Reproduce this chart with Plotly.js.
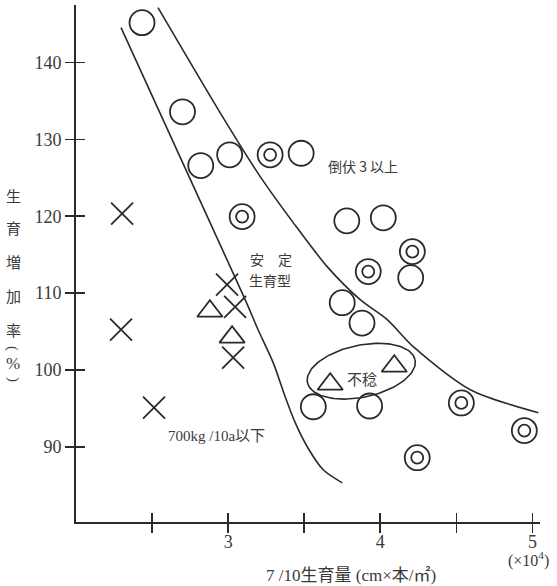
<!DOCTYPE html>
<html>
<head>
<meta charset="utf-8">
<script src="https://cdn.plot.ly/plotly-3.0.1.min.js"></script>
<style>html,body{margin:0;padding:0;background:#fff;}#chart{width:557px;height:586px;}</style>
</head>
<body>
<div id="chart"></div>
<script>
// open circles (○)
const circX = [2.434, 2.70, 2.82, 3.01, 3.48, 3.78, 4.02, 4.20, 3.75, 3.88, 3.56, 3.93];
const circY = [145.2, 133.6, 126.6, 128.0, 128.2, 119.4, 119.8, 112.0, 108.75, 106.1, 95.2, 95.3];
// double circles (◎)
const dblX = [3.276, 3.092, 3.921, 4.211, 4.533, 4.243, 4.947];
const dblY = [128.0, 119.95, 112.8, 115.4, 95.7, 88.57, 92.1];
// triangles (△)
const triX = [2.88, 3.026, 3.671, 4.092];
const triY = [107.64, 104.26, 98.14, 100.48];
// crosses (×)
const crsX = [2.303, 2.296, 2.513, 2.993, 3.046, 3.033];
const crsY = [120.34, 105.23, 95.08, 111.1, 108.2, 101.6];
// boundary curves
const leftCurveX = [2.296, 2.704, 3.112, 3.197, 3.296, 3.375, 3.441, 3.520, 3.625, 3.750];
const leftCurveY = [144.56, 126.85, 109.14, 105.23, 100.94, 96.51, 93.13, 90.0, 87.0, 85.3];
const rightCurveX = [2.539, 2.967, 3.211, 3.428, 3.651, 3.868, 4.046, 4.217, 4.592, 5.039];
const rightCurveY = [147.16, 132.84, 125.16, 119.17, 113.44, 109.14, 106.54, 103.02, 97.42, 94.43];
// ellipse around the 不稔 group
const ellCenter = [3.875, 99.83];
// tick values
const xTickVals = [2.5, 3, 3.5, 4, 4.5, 5];
const xLabelVals = [3, 4, 5];
const yTickVals = [90, 100, 110, 120, 130, 140];

const INK = '#2a2a2a';
const TXT = '#3a3a3a';
const xRange = [2.0, 5.05], yRange = [80.2, 147.5];
const plotW = 464, plotH = 517;
const pxX = plotW / (xRange[1] - xRange[0]);
const pxY = plotH / (yRange[1] - yRange[0]);

// ellipse outline (semi-axes 55px/26px, tilted 12°)
const ea = 55, eb = 26, th = 12 * Math.PI / 180;
const ellX = [], ellY = [];
for (let i = 0; i <= 120; i++) {
  const t = 2 * Math.PI * i / 120;
  const dx = ea * Math.cos(t) * Math.cos(th) - eb * Math.sin(t) * Math.sin(th);
  const dy = ea * Math.cos(t) * Math.sin(th) + eb * Math.sin(t) * Math.cos(th);
  ellX.push(ellCenter[0] + dx / pxX);
  ellY.push(ellCenter[1] + dy / pxY);
}

const lineStyle = {color: INK, width: 1.6};
const traces = [
  {x: leftCurveX, y: leftCurveY, mode: 'lines', line: Object.assign({shape: 'spline', smoothing: 0.8}, lineStyle), hoverinfo: 'skip'},
  {x: rightCurveX, y: rightCurveY, mode: 'lines', line: Object.assign({shape: 'spline', smoothing: 0.8}, lineStyle), hoverinfo: 'skip'},
  {x: ellX, y: ellY, mode: 'lines', line: lineStyle, hoverinfo: 'skip'},
  {x: circX, y: circY, mode: 'markers', marker: {symbol: 'circle-open', size: 25, color: INK, line: {width: 1.8, color: INK}}},
  {x: dblX, y: dblY, mode: 'markers', marker: {symbol: 'circle-open', size: 25, color: INK, line: {width: 1.8, color: INK}}},
  {x: dblX, y: dblY, mode: 'markers', marker: {symbol: 'circle-open', size: 12, color: INK, line: {width: 1.8, color: INK}}},
  {x: triX, y: triY, mode: 'markers', marker: {symbol: 'triangle-up-open', size: 22, color: INK, line: {width: 1.8, color: INK}}},
  {x: crsX, y: crsY, mode: 'markers', marker: {symbol: 'x-thin-open', size: 22, color: INK, line: {width: 1.8, color: INK}}},
  {x: [], y: [], xaxis: 'x2', yaxis: 'y2', mode: 'markers'},
  {x: [], y: [], xaxis: 'x3', yaxis: 'y', mode: 'markers'}
];

const cjk = 'Noto Sans CJK JP, sans-serif';
const mix = 'Liberation Serif, Noto Sans CJK JP, serif';
const serif = 'Liberation Serif, serif';
const ann = (x, y, text, size, extra) => Object.assign({
  xref: 'paper', yref: 'paper', x: x, y: y, text: text, showarrow: false,
  font: {family: cjk, size: size, color: TXT}, xanchor: 'center', yanchor: 'middle'
}, extra || {});
// convert page pixel -> paper coords
const PX = px => (px - 76) / plotW;
const PY = py => (522 - py) / plotH;

const yChars = [['生', 195], ['育', 228], ['増', 261], ['加', 295], ['率', 329]];
const annotations = yChars.map(c => ann(PX(13), PY(c[1]), c[0], 15));
annotations.push(ann(PX(13), PY(348), '(', 14, {textangle: 90, font: {family: serif, size: 15, color: TXT}}));
annotations.push(ann(PX(13), PY(363), '%', 15, {font: {family: serif, size: 17, color: TXT}}));
annotations.push(ann(PX(13), PY(379), ')', 14, {textangle: 90, font: {family: serif, size: 15, color: TXT}}));
annotations.push(ann(PX(363), PY(166), '倒伏 3 以上', 14));
annotations.push(ann(PX(271), PY(259), '安　定', 14));
annotations.push(ann(PX(270), PY(280), '生育型', 14));
annotations.push(ann(PX(362), PY(378), '不稔', 15));
annotations.push(ann(PX(216), PY(436), '700kg /10a以下', 14, {font: {family: mix, size: 15, color: TXT}}));
annotations.push(ann(PX(351), PY(575), '7 /10生育量 (cm×本/㎡)', 17, {font: {family: mix, size: 17, color: TXT}}));
annotations.push(ann(PX(528), PY(559), '(×10<sup>4</sup>)', 15, {font: {family: serif, size: 16, color: TXT}}));

const tickFont = {family: serif, size: 18, color: TXT};
const layout = {
  width: 557, height: 586,
  margin: {l: 76, r: 17, t: 5, b: 64},
  paper_bgcolor: '#fff', plot_bgcolor: '#fff',
  showlegend: false,
  xaxis: {range: xRange, showline: true, linewidth: 2, linecolor: INK, showgrid: false, zeroline: false,
    ticks: 'outside', ticklen: 9, tickwidth: 1.6, tickcolor: INK, tickvals: xTickVals, showticklabels: false},
  yaxis: {range: yRange, showline: true, linewidth: 2, linecolor: INK, showgrid: false, zeroline: false,
    ticks: 'outside', ticklen: 9, tickwidth: 1.6, tickcolor: INK, tickvals: yTickVals, tickfont: tickFont},
  xaxis2: {overlaying: 'x', range: xRange, anchor: 'y2', side: 'bottom', showline: false, showgrid: false, zeroline: false,
    ticks: 'inside', ticklen: 9, tickwidth: 1.6, tickcolor: INK, tickvals: xTickVals, showticklabels: false},
  yaxis2: {overlaying: 'y', range: yRange, anchor: 'x2', side: 'left', showline: false, showgrid: false, zeroline: false,
    ticks: 'inside', ticklen: 9, tickwidth: 1.6, tickcolor: INK, tickvals: yTickVals, showticklabels: false},
  xaxis3: {overlaying: 'x', range: xRange, anchor: 'y', side: 'bottom', showline: false, showgrid: false, zeroline: false,
    ticks: '', tickvals: xLabelVals, tickfont: tickFont, ticklabelstandoff: 7},
  annotations: annotations
};
Plotly.newPlot('chart', traces, layout, {staticPlot: true, displayModeBar: false});
</script>
</body>
</html>
